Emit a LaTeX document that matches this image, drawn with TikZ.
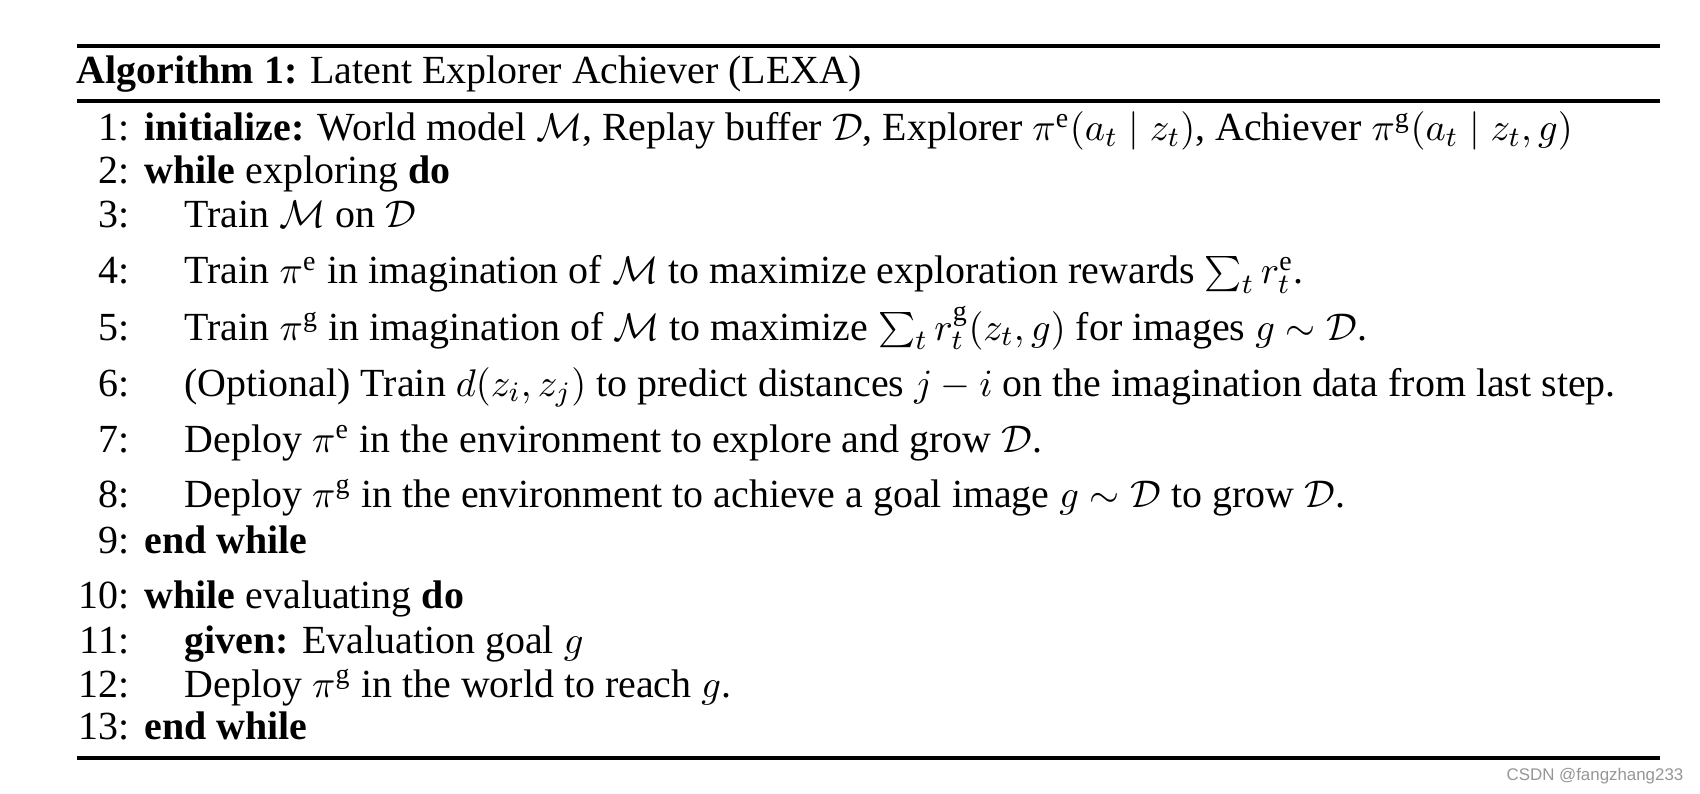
\documentclass[tikz,border=0pt]{standalone}
\usepackage{fontspec}
\setmainfont{Liberation Serif}
\newfontfamily\markfont{Liberation Sans}
\usepackage{tikz}
\usetikzlibrary{positioning}
\definecolor{markgray}{RGB}{150,150,150}
\tikzset{algo text/.style={anchor=base west,inner sep=0pt,font=\fontsize{11.35}{13}\selectfont}}
\tikzset{line number/.style={anchor=base east,inner sep=0pt,font=\fontsize{11.35}{13}\selectfont}}
\tikzset{algo rule/.style={line width=1pt}}
\tikzset{watermark/.style={anchor=base east,inner sep=0pt,text=markgray,font=\markfont\fontsize{4.8}{6}\selectfont}}

\begin{document}
\begin{tikzpicture}[x=0.01cm,y=-0.01cm]
\useasboundingbox (0,0) rectangle (1700,794);

\coordinate (topW) at (77,46);   \coordinate (topE) at (1660,46);
\coordinate (midW) at (77,101);  \coordinate (midE) at (1660,101);
\coordinate (botW) at (77,758);  \coordinate (botE) at (1660,758);
\draw[algo rule] (topW) -- (topE);
\draw[algo rule] (midW) -- (midE);
\draw[algo rule] (botW) -- (botE);

\node[algo text] (Title) at (76,84) {\textbf{Algorithm 1:} Latent Explorer Achiever (LEXA)};

\node[line number] (N1) at (130,141) {1:};
\node[algo text] (L1) at (144,141) {\textbf{initialize:} World model $\mathcal{M}$, Replay buffer $\mathcal{D}$, Explorer $\pi^{\mathrm{e}}(a_t \mid z_t)$, Achiever $\pi^{\mathrm{g}}(a_t \mid z_t, g)$};
\node[line number] (N2) at (130,184) {2:};
\node[algo text] (L2) at (144,184) {\textbf{while} exploring \textbf{do}};
\node[line number] (N3) at (130,228) {3:};
\node[algo text] (L3) at (184,228) {Train $\mathcal{M}$ on $\mathcal{D}$};
\node[line number] (N4) at (130,284) {4:};
\node[algo text] (L4) at (184,284) {Train $\pi^{\mathrm{e}}$ in imagination of $\mathcal{M}$ to maximize exploration rewards $\sum_t r^{\mathrm{e}}_t$.};
\node[line number] (N5) at (130,340) {5:};
\node[algo text] (L5) at (184,340) {Train $\pi^{\mathrm{g}}$ in imagination of $\mathcal{M}$ to maximize $\sum_t r^{\mathrm{g}}_t(z_t, g)$ for images $g \sim \mathcal{D}$.};
\node[line number] (N6) at (130,396) {6:};
\node[algo text] (L6) at (184,396) {(Optional) Train $d(z_i, z_j)$ to predict distances $j - i$ on the imagination data from last step.};
\node[line number] (N7) at (130,452) {7:};
\node[algo text] (L7) at (184,452) {Deploy $\pi^{\mathrm{e}}$ in the environment to explore and grow $\mathcal{D}$.};
\node[line number] (N8) at (130,507) {8:};
\node[algo text] (L8) at (184,507) {Deploy $\pi^{\mathrm{g}}$ in the environment to achieve a goal image $g \sim \mathcal{D}$ to grow $\mathcal{D}$.};
\node[line number] (N9) at (130,553) {9:};
\node[algo text] (L9) at (144,553) {\textbf{end while}};
\node[line number] (N10) at (130,608) {10:};
\node[algo text] (L10) at (144,608) {\textbf{while} evaluating \textbf{do}};
\node[line number] (N11) at (130,653) {11:};
\node[algo text] (L11) at (184,653) {\textbf{given:} Evaluation goal $g$};
\node[line number] (N12) at (130,697) {12:};
\node[algo text] (L12) at (184,697) {Deploy $\pi^{\mathrm{g}}$ in the world to reach $g$.};
\node[line number] (N13) at (130,739) {13:};
\node[algo text] (L13) at (144,739) {\textbf{end while}};

\node[watermark] (Mark) at (1684,780) {CSDN @fangzhang233};
\end{tikzpicture}
\end{document}
